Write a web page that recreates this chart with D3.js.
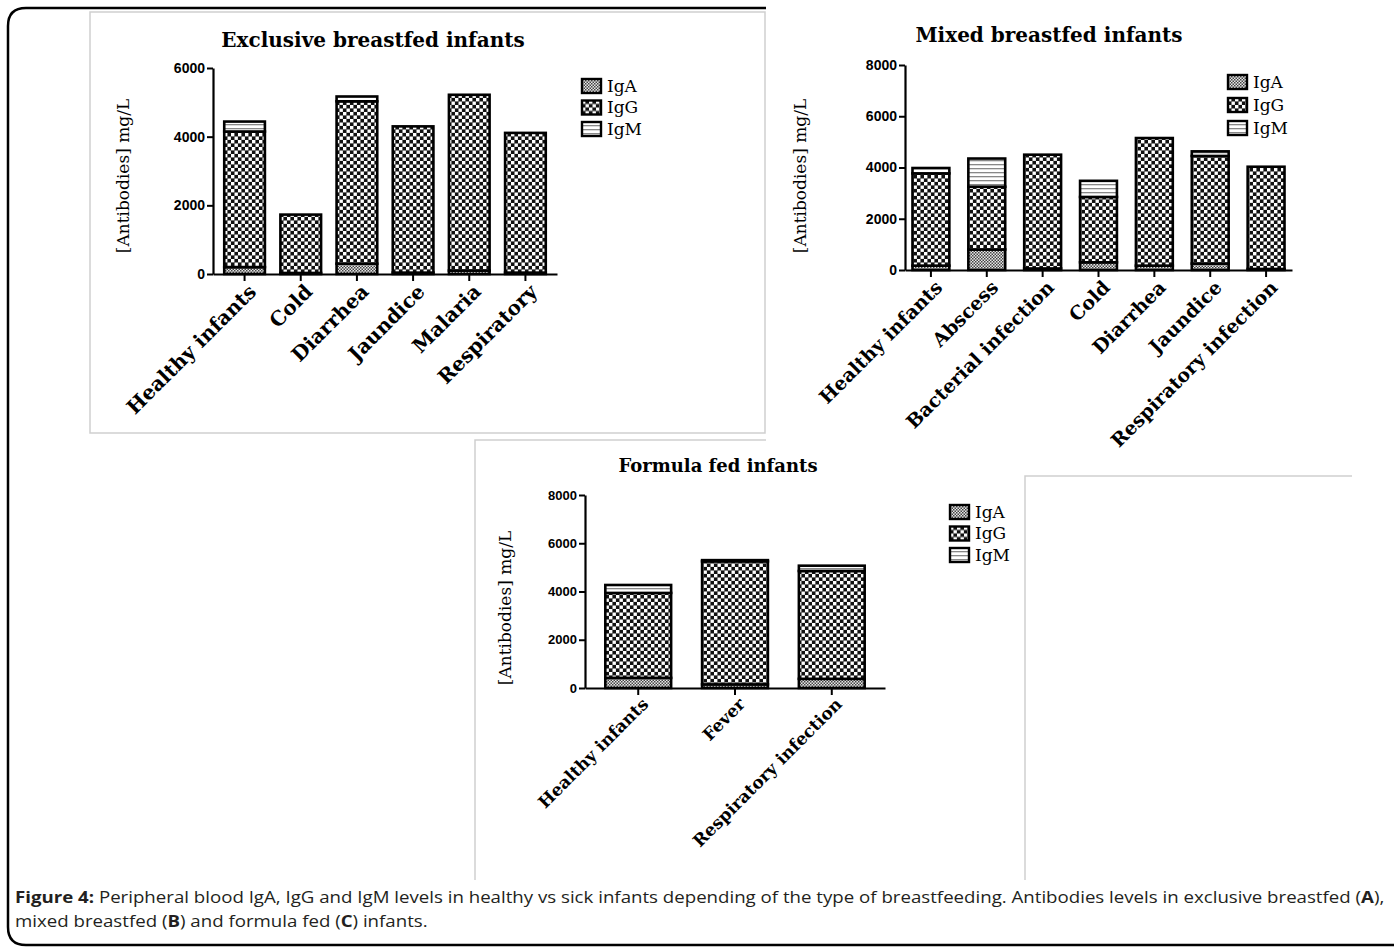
<!DOCTYPE html>
<html>
<head>
<meta charset="utf-8">
<script src="https://cdn.jsdelivr.net/npm/d3@7/dist/d3.min.js"></script>
<style>
  html, body { margin: 0; padding: 0; background: #fff; }
  svg { display: block; }
</style>
</head>
<body>
<svg id="fig" width="1394" height="950"></svg>
<script>
// Antibody levels (mg/L) by infant group and condition
const exclusiveCategories = ["Healthy infants", "Cold", "Diarrhea", "Jaundice", "Malaria", "Respiratory"];
const exclusiveIgA = [200, 30, 300, 40, 100, 40];
const exclusiveIgG = [3950, 1700, 4730, 4260, 5120, 4070];
const exclusiveIgM = [290, 0, 140, 0, 0, 0];

const mixedCategories = ["Healthy infants", "Abscess", "Bacterial infection", "Cold", "Diarrhea", "Jaundice", "Respiratory infection"];
const mixedIgA = [170, 800, 60, 300, 170, 250, 40];
const mixedIgG = [3600, 2450, 4440, 2550, 4980, 4200, 3990];
const mixedIgM = [210, 1100, 0, 630, 0, 180, 0];

const formulaCategories = ["Healthy infants", "Fever", "Respiratory infection"];
const formulaIgA = [420, 150, 380];
const formulaIgG = [3520, 5100, 4470];
const formulaIgM = [330, 50, 220];

const seriesKeys = ["IgA", "IgG", "IgM"];
const exclusiveTicks = [0, 2000, 4000, 6000];
const eightThousandTicks = [0, 2000, 4000, 6000, 8000];

const svg = d3.select("#fig");
const defs = svg.append("defs");

// Fill patterns for the three immunoglobulin classes
const pA = defs.append("pattern").attr("id", "pat-IgA").attr("patternUnits", "userSpaceOnUse")
  .attr("width", 3).attr("height", 3);
pA.append("rect").attr("width", 3).attr("height", 3).attr("fill", "#e8e8e8");
pA.append("rect").attr("width", 1.5).attr("height", 1.5).attr("fill", "#444");
pA.append("rect").attr("x", 1.5).attr("y", 1.5).attr("width", 1.5).attr("height", 1.5).attr("fill", "#444");

const pG = defs.append("pattern").attr("id", "pat-IgG").attr("patternUnits", "userSpaceOnUse")
  .attr("width", 7).attr("height", 7);
pG.append("rect").attr("width", 7).attr("height", 7).attr("fill", "#111");
pG.append("rect").attr("x", 0).attr("y", 0).attr("width", 3.4).attr("height", 3.4).attr("fill", "#fff");
pG.append("rect").attr("x", 3.5).attr("y", 3.5).attr("width", 3.4).attr("height", 3.4).attr("fill", "#fff");

const pM = defs.append("pattern").attr("id", "pat-IgM").attr("patternUnits", "userSpaceOnUse")
  .attr("width", 4).attr("height", 4);
pM.append("rect").attr("width", 4).attr("height", 4).attr("fill", "#fff");
pM.append("rect").attr("y", 0).attr("width", 4).attr("height", 1.3).attr("fill", "#888");

const fills = { IgA: "url(#pat-IgA)", IgG: "url(#pat-IgG)", IgM: "url(#pat-IgM)" };

// Outer figure frame (right edge runs past the page)
svg.append("path")
  .attr("d", "M 1420 8 L 26 8 Q 8 8 8 26 L 8 927 Q 8 945 26 945 L 1420 945")
  .attr("fill", "none").attr("stroke", "#000").attr("stroke-width", 2.5);

// Panel borders
svg.append("rect").attr("x", 90).attr("y", 12).attr("width", 675).attr("height", 421)
  .attr("fill", "#fff").attr("stroke", "#cfcfcf").attr("stroke-width", 1.5);
svg.append("path").attr("d", "M 475 880 L 475 440 L 766 440")
  .attr("fill", "none").attr("stroke", "#cfcfcf").attr("stroke-width", 1.5);
svg.append("rect").attr("x", 766).attr("y", 3).attr("width", 640).attr("height", 446).attr("fill", "#fff");
svg.append("path").attr("d", "M 1025 880 L 1025 476 L 1352 476")
  .attr("fill", "none").attr("stroke", "#cfcfcf").attr("stroke-width", 1.5);

function drawPanel(cfg) {
  const g = svg.append("g");
  const data = cfg.categories.map((c, i) => ({
    category: c, IgA: cfg.iga[i], IgG: cfg.igg[i], IgM: cfg.igm[i]
  }));
  const x = d3.scaleBand().domain(cfg.categories)
    .range([cfg.x0, cfg.x1]).paddingInner(cfg.pIn).paddingOuter(cfg.pOut);
  const y = d3.scaleLinear().domain([0, cfg.yMax]).range([cfg.y0, cfg.y1]);
  const stacked = d3.stack().keys(seriesKeys)(data);

  // Bars
  stacked.forEach(layer => {
    g.append("g").selectAll("rect").data(layer).join("rect")
      .attr("x", d => x(d.data.category))
      .attr("y", d => y(d[1]))
      .attr("width", x.bandwidth())
      .attr("height", d => Math.max(0, y(d[0]) - y(d[1])))
      .attr("fill", fills[layer.key])
      .attr("stroke", "#000")
      .attr("stroke-width", 2.6)
      .attr("display", d => (d[1] - d[0]) > 0 ? null : "none");
  });

  // Y axis
  const yAxis = g.append("g").attr("transform", `translate(${cfg.x0},0)`)
    .call(d3.axisLeft(y).tickValues(cfg.ticks).tickFormat(d3.format("d"))
      .tickSize(6).tickSizeOuter(0).tickPadding(2));
  yAxis.select(".domain").attr("stroke-width", 2.2);
  yAxis.selectAll(".tick line").attr("stroke-width", 2);
  yAxis.selectAll("text").attr("font-family", "'Liberation Sans', Arial, sans-serif")
    .attr("font-weight", "bold").attr("font-size", cfg.tickFont).attr("fill", "#000");

  // X axis
  const xAxis = g.append("g").attr("transform", `translate(0,${cfg.y0})`)
    .call(d3.axisBottom(x).tickSize(7).tickSizeOuter(0));
  xAxis.select(".domain").attr("stroke-width", 2.2);
  xAxis.selectAll(".tick line").attr("stroke-width", 2);
  xAxis.selectAll("text").remove();
  xAxis.selectAll(".tick").append("text")
    .attr("transform", `translate(${cfg.lblDx},${cfg.lblDy}) rotate(-45)`)
    .attr("text-anchor", "end")
    .attr("dy", "0.35em")
    .attr("fill", "#000")
    .attr("font-family", "'DejaVu Serif', serif")
    .attr("font-weight", "bold")
    .attr("font-size", cfg.xFont)
    .text(d => d);

  // Title
  g.append("text").attr("x", cfg.titleX).attr("y", cfg.titleY)
    .attr("text-anchor", "middle")
    .attr("font-family", "'DejaVu Serif', serif").attr("font-weight", "bold")
    .attr("font-size", cfg.titleFont).attr("fill", "#000")
    .text(cfg.title);

  // Y axis label
  g.append("text")
    .attr("transform", `translate(${cfg.ylabX},${cfg.ylabY}) rotate(-90)`)
    .attr("text-anchor", "middle")
    .attr("font-family", "'DejaVu Serif', serif")
    .attr("font-size", cfg.ylabFont).attr("fill", "#000")
    .text("[Antibodies] mg/L");

  // Legend
  const leg = g.append("g").selectAll("g").data(seriesKeys).join("g")
    .attr("transform", (d, i) => `translate(${cfg.legX},${cfg.legY + i * cfg.legStep})`);
  leg.append("rect").attr("x", 0).attr("y", -7).attr("width", 19).attr("height", 14)
    .attr("fill", d => fills[d]).attr("stroke", "#000").attr("stroke-width", 2.4);
  leg.append("text").attr("x", 25).attr("y", 0).attr("dy", "0.35em")
    .attr("font-family", "'DejaVu Serif', serif").attr("font-size", cfg.legFont)
    .attr("fill", "#000").text(d => d);
}

drawPanel({
  categories: exclusiveCategories, iga: exclusiveIgA, igg: exclusiveIgG, igm: exclusiveIgM,
  x0: 213, x1: 557, pIn: 0.276, pOut: 0.2, y0: 274, y1: 68, yMax: 6000, ticks: exclusiveTicks,
  tickFont: 14, xFont: 20, lblDx: 8, lblDy: 14,
  title: "Exclusive breastfed infants", titleX: 373, titleY: 47, titleFont: 20,
  ylabX: 129, ylabY: 176, ylabFont: 17,
  legX: 582, legY: 86, legStep: 21.5, legFont: 17
});

drawPanel({
  categories: mixedCategories, iga: mixedIgA, igg: mixedIgG, igm: mixedIgM,
  x0: 905, x1: 1292, pIn: 0.34, pOut: 0.134, y0: 270, y1: 65, yMax: 8000, ticks: eightThousandTicks,
  tickFont: 14, xFont: 19, lblDx: 8, lblDy: 14,
  title: "Mixed breastfed infants", titleX: 1049, titleY: 42, titleFont: 20,
  ylabX: 806, ylabY: 176, ylabFont: 17,
  legX: 1228, legY: 82, legStep: 23, legFont: 17
});

drawPanel({
  categories: formulaCategories, iga: formulaIgA, igg: formulaIgG, igm: formulaIgM,
  x0: 585, x1: 885, pIn: 0.32, pOut: 0.21, y0: 688, y1: 495, yMax: 8000, ticks: eightThousandTicks,
  tickFont: 13, xFont: 17, lblDx: 7, lblDy: 13,
  title: "Formula fed infants", titleX: 718, titleY: 472, titleFont: 18,
  ylabX: 511, ylabY: 608, ylabFont: 17,
  legX: 950, legY: 512, legStep: 21.5, legFont: 17
});

// Caption, condensed horizontally to the frame width
const capFont = "'Open Sans', 'Liberation Sans', sans-serif";
function captionLine(parts) {
  const t = svg.append("text").attr("x", 0).attr("y", 0)
    .attr("font-family", capFont).attr("font-size", 16).attr("fill", "#231f20");
  parts.forEach(([s, bold]) => t.append("tspan").attr("font-weight", bold ? "bold" : null).text(s));
  return t;
}
const cap1 = captionLine([
  ["Figure 4:", true],
  [" Peripheral blood IgA, IgG and IgM levels in healthy vs sick infants depending of the type of breastfeeding. Antibodies levels in exclusive breastfed (", false],
  ["A", true], ["),", false]
]);
const cap2 = captionLine([
  ["mixed breastfed (", false], ["B", true], [") and formula fed (", false], ["C", true], [") infants.", false]
]);
const sx = 1370 / cap1.node().getComputedTextLength();
cap1.attr("transform", `translate(15,903) scale(${sx},1)`);
cap2.attr("transform", `translate(15,927) scale(${sx},1)`);
</script>
</body>
</html>
